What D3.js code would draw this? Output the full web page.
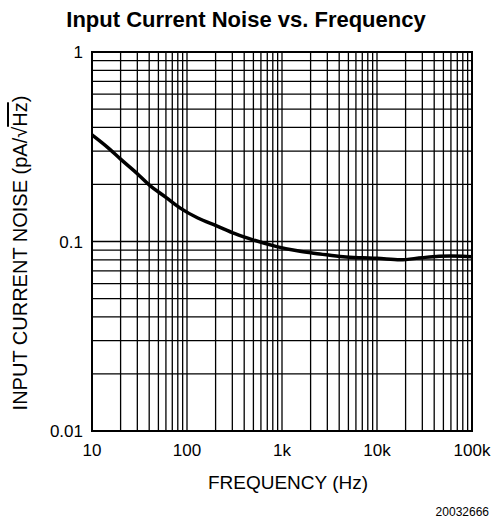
<!DOCTYPE html>
<html><head><meta charset="utf-8">
<script src="https://cdn.jsdelivr.net/npm/d3@7"></script>
<style>body{margin:0;background:#fff}svg{display:block;font-family:"Liberation Sans",Arial,sans-serif}</style>
</head><body>
<svg id="c" width="493" height="529"></svg>
<script>
const title = "Input Current Noise vs. Frequency";
const xLabel = "FREQUENCY (Hz)";
const yLabel = "INPUT CURRENT NOISE (pA/√";
const figId = "20032666";
const xTicks = [10, 100, 1000, 10000, 100000];
const xTickLabels = ["10", "100", "1k", "10k", "100k"];
const yTicks = [0.01, 0.1, 1];
const yTickLabels = ["0.01", "0.1", "1"];
const freq =  [10, 15, 20, 30, 40, 60, 85, 130, 205, 320, 495, 880, 1500, 2500, 4400, 7000, 10000, 17500, 30000, 45000, 60000, 80000, 100000];
const noise = [0.365, 0.31, 0.272, 0.228, 0.199, 0.171, 0.150, 0.133, 0.121, 0.110, 0.102, 0.094, 0.089, 0.086, 0.083, 0.082, 0.0815, 0.080, 0.0822, 0.0835, 0.0838, 0.0835, 0.083];

const svg = d3.select("#c");
const L = 92, R = 472, T = 52, B = 431;
const x = d3.scaleLog().domain([10, 100000]).range([L, R]);
const y = d3.scaleLog().domain([0.01, 1]).range([B, T]);

const xg = [];
for (let d = 10; d < 100000; d *= 10) for (let k = 1; k <= 9; k++) xg.push(d * k);
const yg = [];
for (let d = 0.01; d < 0.99; d *= 10) for (let k = 1; k <= 9; k++) yg.push(d * k);

svg.append("g").selectAll("line").data(xg).join("line")
  .attr("x1", d => x(d)).attr("x2", d => x(d)).attr("y1", T).attr("y2", B)
  .attr("stroke", "#000").attr("stroke-width", 1.3);
svg.append("g").selectAll("line").data(yg).join("line")
  .attr("y1", d => y(d)).attr("y2", d => y(d)).attr("x1", L).attr("x2", R)
  .attr("stroke", "#000").attr("stroke-width", 1.3);
svg.append("rect").attr("x", L).attr("y", T).attr("width", R - L).attr("height", B - T)
  .attr("fill", "none").attr("stroke", "#000").attr("stroke-width", 2);

const line = d3.line().x((d, i) => x(freq[i])).y(d => y(d)).curve(d3.curveMonotoneX);
svg.append("path").attr("d", line(noise)).attr("fill", "none")
  .attr("stroke", "#000").attr("stroke-width", 3.5);

svg.append("g").selectAll("text").data(xTicks).join("text")
  .attr("x", d => x(d)).attr("y", 456).attr("text-anchor", "middle")
  .attr("font-size", 17).text((d, i) => xTickLabels[i]);
svg.append("g").selectAll("text").data(yTicks).join("text")
  .attr("x", 83).attr("y", d => y(d) + 6).attr("text-anchor", "end")
  .attr("font-size", 17).text((d, i) => yTickLabels[i]);

svg.append("text").attr("x", 246).attr("y", 27).attr("text-anchor", "middle")
  .attr("font-size", 22).attr("font-weight", "bold").text(title);
svg.append("text").attr("x", 288).attr("y", 489).attr("text-anchor", "middle")
  .attr("font-size", 19).text(xLabel);
const yl = svg.append("text").attr("transform", "translate(27,253) rotate(-90)")
  .attr("text-anchor", "middle").attr("font-size", 20);
yl.append("tspan").text(yLabel);
yl.append("tspan").style("text-decoration", "overline").text("Hz");
yl.append("tspan").text(")");
svg.append("text").attr("x", 489).attr("y", 516).attr("text-anchor", "end")
  .attr("font-size", 12).text(figId);
</script>
</body></html>
